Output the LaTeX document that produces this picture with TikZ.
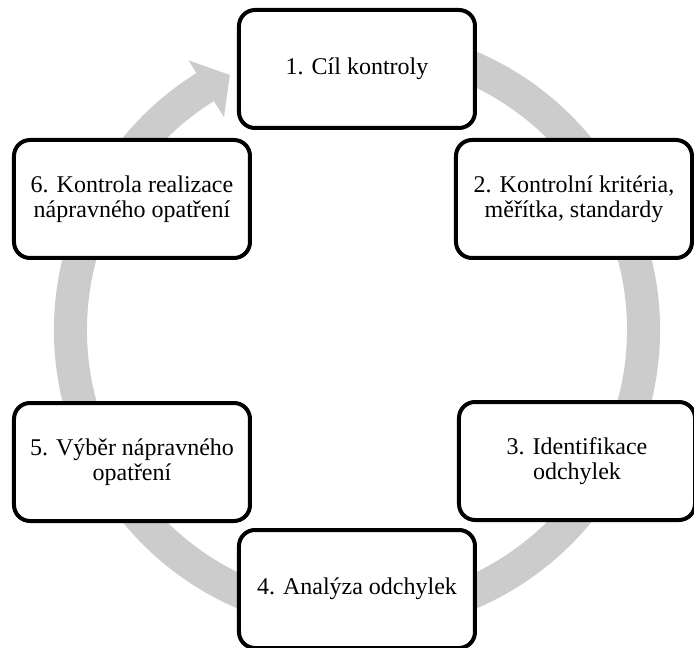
\documentclass[tikz,border=0pt]{standalone}
\usepackage{fontspec}
\setmainfont{Liberation Serif}
\definecolor{ringgray}{RGB}{204,204,204}
\begin{document}
\begin{tikzpicture}[x=1pt,y=1pt,
  stepbox/.style={draw=black, line width=4pt, rounded corners=16pt, fill=white,
    minimum width=236pt, minimum height=118pt, align=center,
    font=\fontsize{24}{25}\selectfont, inner sep=0pt}]
\useasboundingbox (-357,-318) rectangle (337,330);
% circular arrow behind the boxes
\fill[ringgray] (72:303) arc[start angle=72,end angle=-238,radius=303]
  -- (-238:318) -- (-243.5:285) -- (-238:251) -- (-238:270)
  arc[start angle=-238,end angle=72,radius=270] -- cycle;
\node[stepbox] (n1) at (0,261) {1. Cíl kontroly};
\node[stepbox] (n2) at (217,131) {2. Kontrolní kritéria,\\měřítka, standardy};
\node[stepbox] (n3) at (220,-131) {3. Identifikace\\odchylek};
\node[stepbox] (n4) at (0,-259) {4. Analýza odchylek};
\node[stepbox] (n5) at (-225,-132) {5. Výběr nápravného\\opatření};
\node[stepbox] (n6) at (-225,131) {6. Kontrola realizace\\nápravného opatření};
\end{tikzpicture}
\end{document}
